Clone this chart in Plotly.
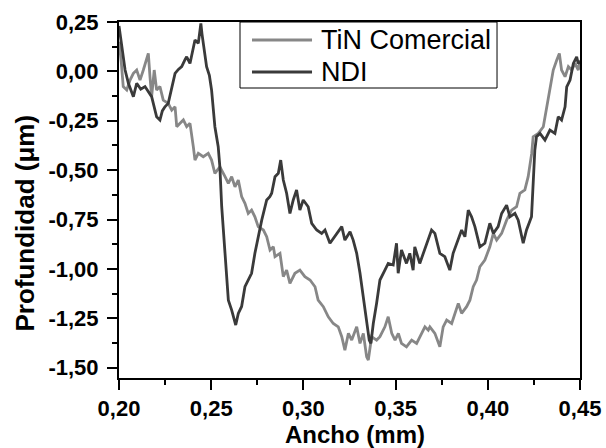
import plotly.graph_objects as go

# ---- data ----
tin_x = [0.2000, 0.2012, 0.2023, 0.2042, 0.2060, 0.2078, 0.2096, 0.2114, 0.2132, 0.2150,
         0.2159, 0.2168, 0.2177, 0.2191, 0.2204, 0.2222, 0.2240, 0.2267, 0.2286, 0.2304,
         0.2313, 0.2331, 0.2349, 0.2367, 0.2385, 0.2403, 0.2412, 0.2430, 0.2457, 0.2484,
         0.2502, 0.2520, 0.2547, 0.2575, 0.2593, 0.2611, 0.2629, 0.2647, 0.2665, 0.2683,
         0.2701, 0.2719, 0.2737, 0.2755, 0.2783, 0.2801, 0.2819, 0.2837, 0.2846, 0.2873,
         0.2891, 0.2909, 0.2927, 0.2954, 0.2981, 0.3008, 0.3036, 0.3063, 0.3080, 0.3108,
         0.3135, 0.3162, 0.3189, 0.3208, 0.3225, 0.3244, 0.3262, 0.3289, 0.3307, 0.3325,
         0.3343, 0.3352, 0.3370, 0.3397, 0.3415, 0.3442, 0.3460, 0.3479, 0.3497, 0.3515,
         0.3532, 0.3559, 0.3587, 0.3614, 0.3641, 0.3659, 0.3677, 0.3686, 0.3713, 0.3740,
         0.3758, 0.3777, 0.3804, 0.3822, 0.3840, 0.3858, 0.3885, 0.3903, 0.3921, 0.3939,
         0.3957, 0.3984, 0.4011, 0.4030, 0.4048, 0.4075, 0.4102, 0.4129, 0.4156, 0.4174,
         0.4201, 0.4219, 0.4238, 0.4246, 0.4274, 0.4301, 0.4319, 0.4337, 0.4355, 0.4374,
         0.4388, 0.4400, 0.4419, 0.4437, 0.4455, 0.4473, 0.4491, 0.4500]
tin_y = [0.150, 0.050, -0.077, -0.094, -0.044, -0.010, 0.007, -0.044, 0.007, 0.058,
         0.091, -0.027, -0.128, 0.007, -0.094, -0.077, -0.145, -0.162, -0.196, -0.179,
         -0.280, -0.263, -0.246, -0.280, -0.263, -0.381, -0.449, -0.415, -0.432, -0.415,
         -0.449, -0.516, -0.483, -0.533, -0.567, -0.533, -0.584, -0.550, -0.634, -0.668,
         -0.719, -0.702, -0.736, -0.786, -0.803, -0.837, -0.904, -0.888, -0.938, -0.921,
         -1.039, -1.006, -1.073, -1.022, -1.006, -1.039, -1.056, -1.090, -1.158, -1.191,
         -1.242, -1.276, -1.293, -1.343, -1.411, -1.326, -1.360, -1.293, -1.377, -1.326,
         -1.445, -1.461, -1.343, -1.360, -1.343, -1.293, -1.242, -1.326, -1.360, -1.326,
         -1.377, -1.394, -1.360, -1.377, -1.326, -1.293, -1.310, -1.293, -1.326, -1.394,
         -1.293, -1.259, -1.276, -1.225, -1.174, -1.225, -1.191, -1.158, -1.090, -1.056,
         -0.989, -0.955, -0.888, -0.820, -0.854, -0.820, -0.753, -0.702, -0.685, -0.617,
         -0.600, -0.533, -0.415, -0.331, -0.314, -0.280, -0.179, -0.078, 0.007, 0.058,
         0.091, 0.007, -0.027, 0.024, 0.007, 0.040, 0.007, 0.058]

ndi_x = [0.2000, 0.2015, 0.2033, 0.2051, 0.2078, 0.2096, 0.2118, 0.2141, 0.2159, 0.2177,
         0.2204, 0.2222, 0.2235, 0.2249, 0.2267, 0.2285, 0.2304, 0.2322, 0.2340, 0.2358,
         0.2367, 0.2385, 0.2398, 0.2412, 0.2430, 0.2437, 0.2444, 0.2450, 0.2457, 0.2475,
         0.2490, 0.2502, 0.2520, 0.2538, 0.2547, 0.2557, 0.2575, 0.2593, 0.2611, 0.2620,
         0.2633, 0.2647, 0.2665, 0.2683, 0.2701, 0.2719, 0.2737, 0.2755, 0.2774, 0.2801,
         0.2818, 0.2828, 0.2846, 0.2864, 0.2877, 0.2891, 0.2909, 0.2927, 0.2945, 0.2963,
         0.2981, 0.2999, 0.3026, 0.3045, 0.3072, 0.3099, 0.3117, 0.3144, 0.3171, 0.3198,
         0.3208, 0.3225, 0.3253, 0.3270, 0.3289, 0.3307, 0.3334, 0.3357, 0.3366, 0.3379,
         0.3397, 0.3415, 0.3442, 0.3460, 0.3487, 0.3505, 0.3514, 0.3532, 0.3559, 0.3577,
         0.3595, 0.3604, 0.3631, 0.3650, 0.3676, 0.3695, 0.3713, 0.3740, 0.3767, 0.3794,
         0.3812, 0.3839, 0.3858, 0.3876, 0.3894, 0.3912, 0.3930, 0.3957, 0.3984, 0.4011,
         0.4030, 0.4056, 0.4075, 0.4102, 0.4120, 0.4147, 0.4165, 0.4192, 0.4210, 0.4237,
         0.4246, 0.4255, 0.4264, 0.4283, 0.4310, 0.4337, 0.4364, 0.4382, 0.4400, 0.4419,
         0.4428, 0.4446, 0.4464, 0.4482, 0.4490, 0.4500]
ndi_y = [0.230, 0.120, 0.007, -0.060, -0.128, -0.060, -0.090, -0.077, -0.100, -0.128,
         -0.230, -0.246, -0.200, -0.179, -0.162, -0.090, -0.010, 0.010, 0.024, 0.060,
         0.074, 0.040, 0.100, 0.159, 0.142, 0.200, 0.243, 0.190, 0.142, 0.024,
         -0.020, -0.094, -0.280, -0.381, -0.483, -0.685, -0.921, -1.158, -1.208, -1.242,
         -1.284, -1.225, -1.190, -1.090, -1.056, -1.022, -0.921, -0.837, -0.753, -0.651,
         -0.634, -0.617, -0.533, -0.516, -0.449, -0.550, -0.617, -0.719, -0.651, -0.600,
         -0.702, -0.651, -0.685, -0.769, -0.803, -0.820, -0.803, -0.870, -0.837, -0.803,
         -0.786, -0.854, -0.812, -0.854, -0.921, -1.022, -1.191, -1.360, -1.377, -1.276,
         -1.174, -1.056, -1.006, -0.972, -0.980, -0.870, -1.022, -0.904, -0.972, -0.921,
         -1.006, -0.888, -0.972, -0.921, -0.854, -0.803, -0.820, -0.921, -0.938, -1.006,
         -0.921, -0.854, -0.803, -0.837, -0.702, -0.736, -0.786, -0.888, -0.870, -0.769,
         -0.820, -0.786, -0.719, -0.677, -0.736, -0.719, -0.753, -0.870, -0.803, -0.736,
         -0.567, -0.400, -0.331, -0.314, -0.348, -0.297, -0.314, -0.230, -0.246, -0.179,
         -0.078, -0.044, 0.040, 0.074, 0.040, 0.050]

series_names = ["TiN Comercial", "NDI"]
series_colors = ["#878787", "#3a3a3a"]
x_tickvals = [0.20, 0.25, 0.30, 0.35, 0.40, 0.45]
x_ticktext = ["0,20", "0,25", "0,30", "0,35", "0,40", "0,45"]
y_tickvals = [-1.50, -1.25, -1.00, -0.75, -0.50, -0.25, 0.00, 0.25]
y_ticktext = ["-1,50", "-1,25", "-1,00", "-0,75", "-0,50", "-0,25", "0,00", "0,25"]

FONT = "Liberation Sans, Arial, sans-serif"

fig = go.Figure()
for xs, ys, nm, col in [(tin_x, tin_y, series_names[0], series_colors[0]),
                        (ndi_x, ndi_y, series_names[1], series_colors[1])]:
    fig.add_trace(go.Scatter(x=xs, y=ys, mode="lines", name=nm,
                             line=dict(color=col, width=2.8), showlegend=False))

axis_common = dict(showgrid=False, zeroline=False, showline=True, linecolor="black",
                   linewidth=2, mirror=True, ticks="outside", ticklen=10, tickwidth=2,
                   tickcolor="black", automargin=False,
                   tickfont=dict(family=FONT, size=22, color="black", weight="bold"))

fig.update_xaxes(range=[0.20, 0.45], tickvals=x_tickvals, ticktext=x_ticktext,
                 minor=dict(ticks="outside", ticklen=5, tickwidth=2, tickcolor="black",
                            dtick=0.025, tick0=0.2),
                 ticklabelstandoff=0, **axis_common)
fig.update_yaxes(range=[-1.552, 0.25], tickvals=y_tickvals, ticktext=y_ticktext,
                 minor=dict(ticks="outside", ticklen=5, tickwidth=2, tickcolor="black",
                            dtick=0.125, tick0=0.25),
                 ticklabelstandoff=4, **axis_common)

# legend drawn as a framed box with line samples and text (paper coordinates)
leg_box = dict(x0=0.2625, x1=0.820, y0=0.8146, y1=1.0)
leg_rows_y = [0.9494, 0.8596]
shapes = [dict(type="rect", xref="paper", yref="paper", layer="above",
               line=dict(color="black", width=1), fillcolor="white", **leg_box)]
annotations = []
for nm, col, ry in zip(series_names, series_colors, leg_rows_y):
    shapes.append(dict(type="line", xref="paper", yref="paper", layer="above",
                       x0=0.2885, x1=0.4187, y0=ry, y1=ry,
                       line=dict(color=col, width=2.8)))
    annotations.append(dict(text=nm, xref="paper", yref="paper", x=0.434, y=ry,
                            xanchor="left", yanchor="middle", showarrow=False,
                            font=dict(family=FONT, size=27, color="black")))

annotations += [
    dict(text="<b>Ancho (mm)</b>", xref="paper", yref="paper", x=0.511, y=-0.158,
         xanchor="center", yanchor="middle", showarrow=False,
         font=dict(family=FONT, size=24, color="black")),
    dict(text="<b>Profundidad (μm)</b>", xref="paper", yref="paper", x=-0.203, y=0.435,
         xanchor="center", yanchor="middle", textangle=-90, showarrow=False,
         font=dict(family=FONT, size=26, color="black")),
]

fig.update_layout(
    width=606, height=448,
    margin=dict(l=119, r=26, t=22, b=70),
    paper_bgcolor="white", plot_bgcolor="white",
    showlegend=False,
    shapes=shapes,
    annotations=annotations,
)

fig.write_html("out.html")
